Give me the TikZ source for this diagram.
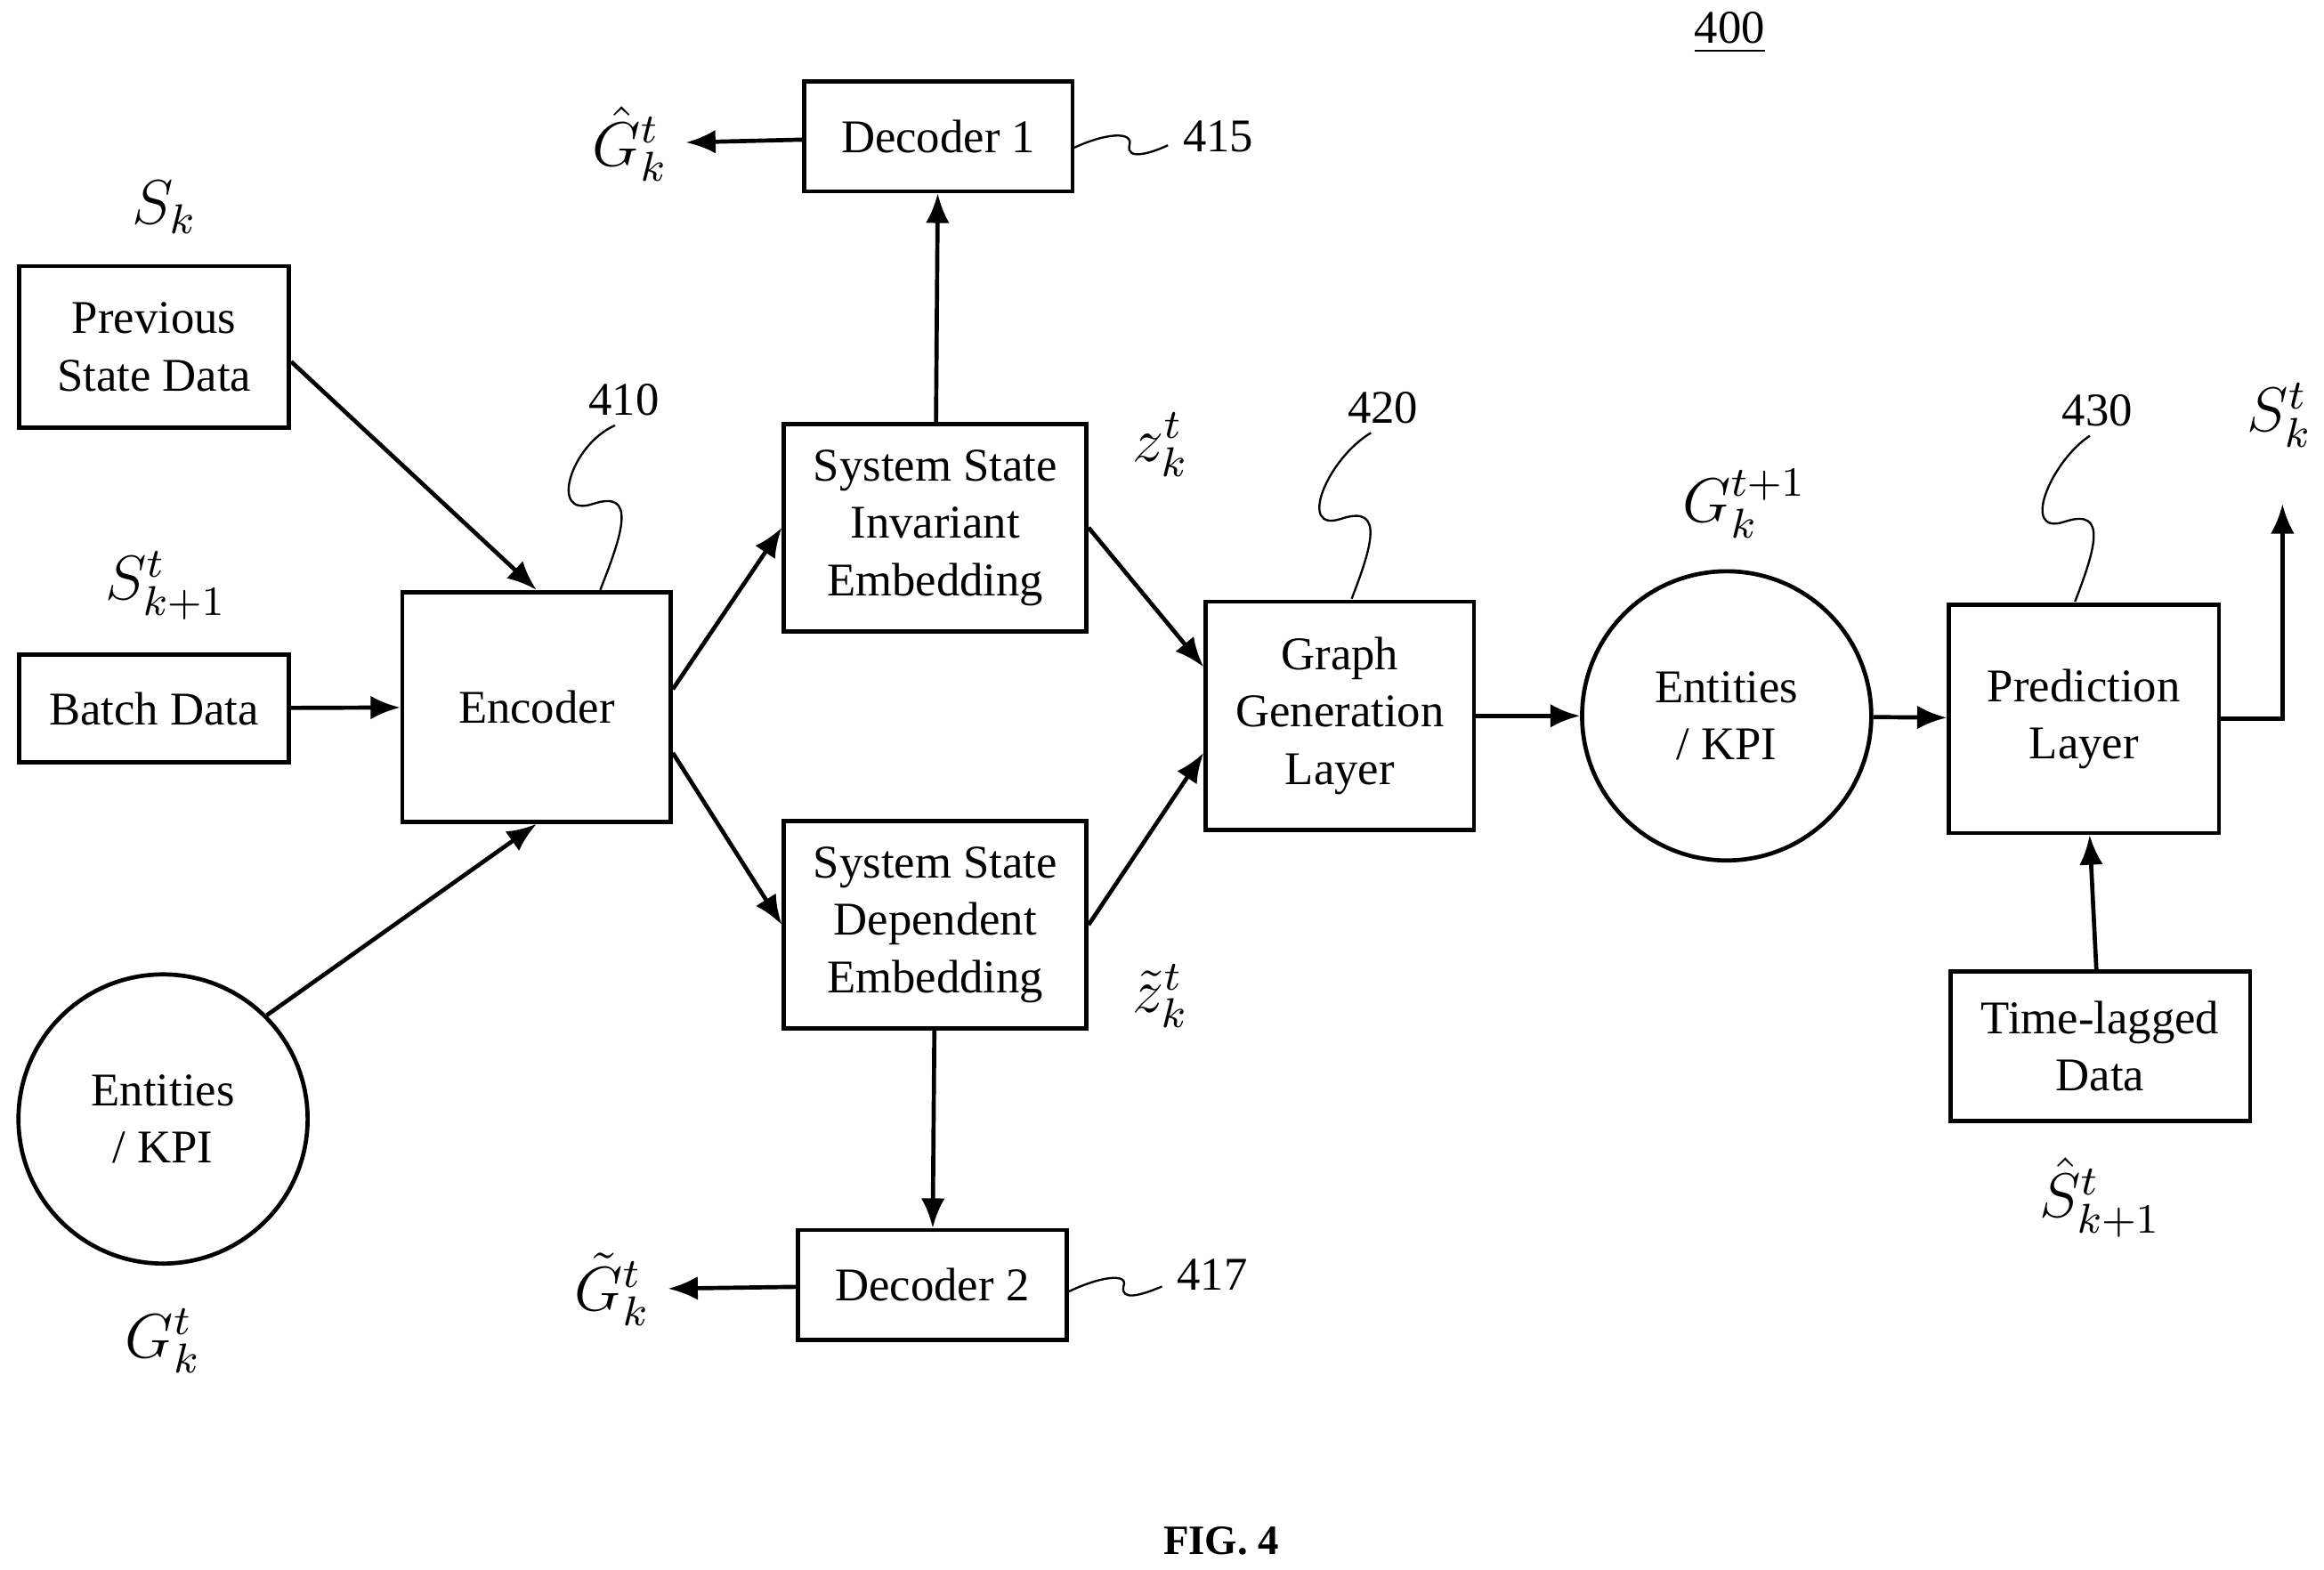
\documentclass[tikz,border=0pt]{standalone}
\usepackage{fontspec}
\setmainfont{Liberation Serif}
\usetikzlibrary{arrows.meta}
\begin{document}
\begin{tikzpicture}[x=0.01cm, y=-0.01cm, font=\fontsize{9}{11}\selectfont]
\tikzstyle{blk}=[rectangle, draw=black, thick, align=center, inner sep=2pt]
\tikzstyle{ent}=[circle, draw=black, thick, align=center, minimum size=1.95cm]
\tikzstyle{arr}=[thick, -{Latex[length=2mm,width=1.6mm]}]
\tikzstyle{ref}=[thin]
\tikzstyle{lbl}=[font=\fontsize{12}{14}\selectfont]
%
\useasboundingbox (0,0) rectangle (1568,1059);
% inputs
\node [blk, minimum width=1.82cm, minimum height=1.09cm] (prev) at (104,234) {Previous\\State Data};
\node [blk, minimum width=1.82cm, minimum height=0.73cm] (batch) at (104,478) {Batch Data};
\node [ent] (entin) at (110,755) {Entities\\/ KPI};
\node [lbl] (sk) at (111,140) {$S_k$};
\node [lbl] (skp) at (112,395) {$S^t_{k+1}$};
\node [lbl] (gk) at (110,905) {$G^t_k$};
% encoder and embeddings
\node [blk, minimum width=1.81cm, minimum height=1.55cm] (enc) at (362,477) {Encoder};
\node [blk, minimum width=2.04cm, minimum height=1.4cm] (inv) at (631,356) {System State\\Invariant\\Embedding};
\node [blk, minimum width=2.04cm, minimum height=1.4cm] (dep) at (631,624) {System State\\Dependent\\Embedding};
\node [blk, minimum width=1.81cm, minimum height=0.74cm] (dec1) at (633,92) {Decoder 1};
\node [blk, minimum width=1.81cm, minimum height=0.74cm] (dec2) at (629,867) {Decoder 2};
\node [lbl] (ghat) at (425,97) {$\hat{G}^t_k$};
\node [lbl] (gtil) at (413,870) {$\tilde{G}^t_k$};
\node [lbl] (z) at (783,300) {$z^t_k$};
\node [lbl] (ztil) at (783,672) {$\tilde{z}^t_k$};
% graph and prediction
\node [blk, minimum width=1.81cm, minimum height=1.54cm] (graph) at (904,483) {Graph\\Generation\\Layer};
\node [ent] (entout) at (1165,483) {Entities\\/ KPI};
\node [lbl] (gnext) at (1177,340) {$G^{t+1}_k$};
\node [blk, minimum width=1.82cm, minimum height=1.54cm] (pred) at (1406,485) {Prediction\\Layer};
\node [blk, minimum width=2.02cm, minimum height=1.01cm] (lag) at (1417,706) {Time-lagged\\Data};
\node [lbl] (shat) at (1417,808) {$\hat{S}^t_{k+1}$};
\node [lbl] (sout) at (1538,280) {$S^t_k$};
\coordinate (outend) at (1540,340);
% connectors
\draw [arr] (prev.east) ++(0,10) -- (enc.north);
\draw [arr] (batch) -- (enc);
\draw [arr] (entin.north east) -- (enc.south);
\draw [arr] (enc.east) ++(0,-12) -- (inv.west);
\draw [arr] (enc.east) ++(0,31) -- (dep.west);
\draw [arr] (inv) -- (dec1);
\draw [arr] (dec1) -- (ghat);
\draw [arr] (dep) -- (dec2);
\draw [arr] (dec2) -- (gtil);
\draw [arr] (inv.east) -- ([yshift=0.33cm]graph.west);
\draw [arr] (dep.east) -- ([yshift=-0.25cm]graph.west);
\draw [arr] (graph) -- (entout);
\draw [arr] (entout) -- (pred);
\draw [arr] (pred.east) -- (pred.east -| outend) -- (outend);
\draw [arr] (lag) -- (pred);
% reference numerals
\node (n400) at (1167,22) {\underline{400}};
\node (n410) at (421,270) {410};
\node (n415) at (822,92) {415};
\node (n417) at (818,860) {417};
\node (n420) at (933,275) {420};
\node (n430) at (1415,277) {430};
\node [font=\bfseries\fontsize{8}{10}\selectfont] (fig) at (824,1040) {FIG. 4};
\draw [ref] (405,398) .. controls (420,360) and (430,330) .. (400,340) .. controls (370,350) and (385,300) .. (415,287);
\draw [ref] (724,100) .. controls (745,90) and (765,88) .. (762,98) .. controls (760,108) and (775,104) .. (788,98);
\draw [ref] (720,872) .. controls (740,862) and (762,858) .. (758,868) .. controls (756,878) and (770,874) .. (784,868);
\draw [ref] (912,404) .. controls (925,370) and (935,340) .. (905,350) .. controls (875,360) and (895,310) .. (925,292);
\draw [ref] (1400,406) .. controls (1413,372) and (1423,342) .. (1393,352) .. controls (1363,362) and (1383,312) .. (1410,294);
\end{tikzpicture}
\end{document}
